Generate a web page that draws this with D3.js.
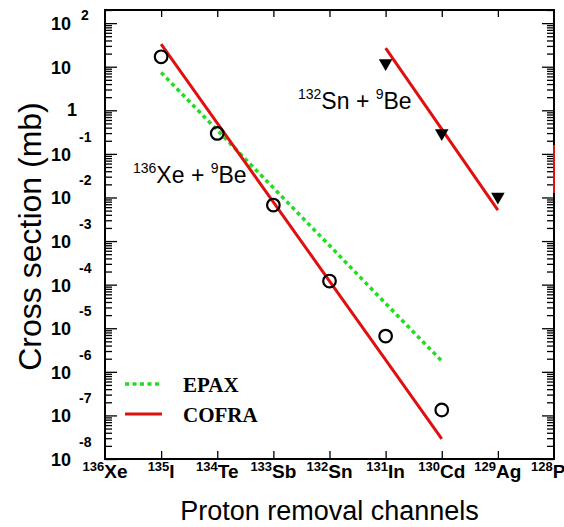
<!DOCTYPE html>
<html>
<head>
<meta charset="utf-8">
<script src="https://cdn.jsdelivr.net/npm/d3@7"></script>
<style>
  html, body { margin: 0; padding: 0; background: #fff; }
  svg { display: block; }
  text { font-family: "Liberation Sans", Arial, Helvetica, sans-serif; }
</style>
</head>
<body>
<svg id="chart" width="564" height="527"></svg>
<script>
// Proton removal channels (mass number + element)
const massNumbers = ["136", "135", "134", "133", "132", "131", "130", "129", "128"];
const elements    = ["Xe", "I", "Te", "Sb", "Sn", "In", "Cd", "Ag", "Pd"];
const channels    = massNumbers.map((m, i) => m + elements[i]);

// 136Xe + 9Be : measured cross sections and model predictions (mb)
const xeChannels = ["135I", "134Te", "133Sb", "132Sn", "131In", "130Cd"];
const xeMeasured = [16.9, 0.295, 6.7e-3, 1.21e-4, 6.6e-6, 1.33e-7];
const xeEpax     = [7.4, 0.35, 1.66e-2, 7.9e-4, 3.7e-5, 1.77e-6];
const xeCofra    = [33, 0.51, 7.8e-3, 1.21e-4, 1.87e-6, 2.9e-8];

// 132Sn + 9Be : measured cross sections and COFRA prediction (mb)
const snChannels = ["131In", "130Cd", "129Ag"];
const snMeasured = [12, 0.3, 0.0105];
const snCofra    = [26.7, 0.37, 5.1e-3];

// short COFRA piece lying on the right frame
const edgeChannels = ["128Pd", "128Pd"];
const edgeCofra    = [0.16, 0.0126];

// y-axis decades
const decades = [2, 1, 0, -1, -2, -3, -4, -5, -6, -7, -8];

const svg = d3.select("#chart");
const W = 564, H = 527;
const margin = { left: 105, top: 10, right: 10, bottom: 68 };
const x0 = margin.left, x1 = W - margin.right;
const y0 = margin.top,  y1 = H - margin.bottom;

const x = d3.scalePoint().domain(channels).range([x0, x1]).padding(0);
const y = d3.scaleLog().domain([1e-8, 200]).range([y1, y0]);

// log ticks
const majors = decades.map(n => Math.pow(10, n));
const minors = [];
decades.forEach(n => {
  for (let k = 2; k <= 9; k++) {
    const v = k * Math.pow(10, n);
    if (v >= 1e-8 && v <= 200) minors.push(v);
  }
});

function yAxisGroup(axisFn, tx, size, vals) {
  const g = svg.append("g").attr("transform", `translate(${tx},0)`)
    .call(axisFn(y).tickValues(vals).tickSize(size).tickFormat(""));
  g.select(".domain").remove();
  g.selectAll("line").attr("stroke", "#000").attr("stroke-width", 1.3);
  return g;
}
yAxisGroup(d3.axisLeft, x0, -7, minors);
yAxisGroup(d3.axisLeft, x0, -12, majors);
yAxisGroup(d3.axisRight, x1, -7, minors);
yAxisGroup(d3.axisRight, x1, -12, majors);

const innerChannels = channels.slice(1, -1);
const gt = svg.append("g").attr("transform", `translate(0,${y0})`)
  .call(d3.axisTop(x).tickValues(innerChannels).tickSize(-7).tickFormat(""));
gt.select(".domain").remove();
gt.selectAll("line").attr("stroke", "#000").attr("stroke-width", 1.3);
const gb = svg.append("g").attr("transform", `translate(0,${y1})`)
  .call(d3.axisBottom(x).tickValues(innerChannels).tickSize(-8).tickFormat(""));
gb.select(".domain").remove();
gb.selectAll("line").attr("stroke", "#000").attr("stroke-width", 1.3);

// frame
svg.append("rect")
  .attr("x", x0).attr("y", y0)
  .attr("width", x1 - x0).attr("height", y1 - y0)
  .attr("fill", "none").attr("stroke", "#000").attr("stroke-width", 2);

// y tick labels
const yl = svg.append("g").attr("font-weight", "bold").attr("fill", "#000");
decades.forEach(n => {
  const yy = y(Math.pow(10, n));
  if (n === 0) {
    yl.append("text").attr("x", 77).attr("y", yy + 6)
      .attr("text-anchor", "end").attr("font-size", 18).text("1");
    return;
  }
  yl.append("text").attr("x", 71).attr("y", yy + 7)
    .attr("text-anchor", "end").attr("font-size", 18).text("10");
  if (n === 1) return;
  yl.append("text")
    .attr("x", n === 2 ? 81 : 79)
    .attr("y", n === 2 ? yy - 3 : yy - 12)
    .attr("font-size", 14).text(String(n));
});

// x tick labels
const xl = svg.append("g").attr("font-weight", "bold").attr("fill", "#000");
channels.forEach((c, i) => {
  const t = xl.append("text").attr("x", x(c)).attr("y", 478)
    .attr("text-anchor", "middle");
  t.append("tspan").attr("font-size", 13).attr("dy", -7).text(massNumbers[i]);
  t.append("tspan").attr("font-size", 19).attr("dy", 7).text(elements[i]);
});

// axis titles
svg.append("text").attr("x", (x0 + x1) / 2).attr("y", 520)
  .attr("text-anchor", "middle").attr("font-size", 27).text("Proton removal channels");
svg.append("text")
  .attr("transform", `translate(41,${(y0 + y1) / 2 + 2}) rotate(-90)`)
  .attr("text-anchor", "middle").attr("font-size", 32).text("Cross section (mb)");

// model lines
const line = d3.line().x(d => x(d[0])).y(d => y(d[1]));
const pairs = (cs, vs) => cs.map((c, i) => [c, vs[i]]);

svg.append("path").datum(pairs(xeChannels, xeEpax))
  .attr("d", line).attr("fill", "none")
  .attr("stroke", "#22dd22").attr("stroke-width", 3.5).attr("stroke-dasharray", "4,3.5");
svg.append("path").datum(pairs(xeChannels, xeCofra))
  .attr("d", line).attr("fill", "none")
  .attr("stroke", "#e01010").attr("stroke-width", 3);
svg.append("path").datum(pairs(snChannels, snCofra))
  .attr("d", line).attr("fill", "none")
  .attr("stroke", "#e01010").attr("stroke-width", 3);
svg.append("path").datum(pairs(edgeChannels, edgeCofra))
  .attr("d", line).attr("fill", "none")
  .attr("stroke", "#e01010").attr("stroke-width", 2);

// measured points
svg.append("g").selectAll("circle").data(pairs(xeChannels, xeMeasured)).join("circle")
  .attr("cx", d => x(d[0])).attr("cy", d => y(d[1])).attr("r", 6.3)
  .attr("fill", "none").attr("stroke", "#000").attr("stroke-width", 2.2);
const tri = d3.symbol().type(d3.symbolTriangle).size(80);
svg.append("g").selectAll("path").data(pairs(snChannels, snMeasured)).join("path")
  .attr("d", tri)
  .attr("transform", d => `translate(${x(d[0])},${y(d[1])}) rotate(180)`)
  .attr("fill", "#000");

// reaction labels
function reaction(xp, yp, a, b) {
  const t = svg.append("text").attr("x", xp).attr("y", yp).attr("font-size", 23).attr("fill", "#000");
  t.append("tspan").attr("font-size", 14).attr("dy", -10).text(a[0]);
  t.append("tspan").attr("dy", 10).text(a[1] + " + ");
  t.append("tspan").attr("font-size", 14).attr("dy", -10).text(b[0]);
  t.append("tspan").attr("dy", 10).text(b[1]);
}
reaction(298, 109, ["132", "Sn"], ["9", "Be"]);
reaction(133, 183, ["136", "Xe"], ["9", "Be"]);

// legend
const lg = svg.append("g");
lg.append("line").attr("x1", 125).attr("x2", 162).attr("y1", 384).attr("y2", 384)
  .attr("stroke", "#22dd22").attr("stroke-width", 3.5).attr("stroke-dasharray", "4,3.5");
lg.append("line").attr("x1", 125).attr("x2", 162).attr("y1", 414).attr("y2", 414)
  .attr("stroke", "#e01010").attr("stroke-width", 3);
lg.append("text").attr("x", 183).attr("y", 392)
  .style("font-family", "'Liberation Serif', 'Times New Roman', serif")
  .attr("font-weight", "bold").attr("font-size", 21).text("EPAX");
lg.append("text").attr("x", 183).attr("y", 422)
  .style("font-family", "'Liberation Serif', 'Times New Roman', serif")
  .attr("font-weight", "bold").attr("font-size", 21).text("COFRA");
</script>
</body>
</html>
